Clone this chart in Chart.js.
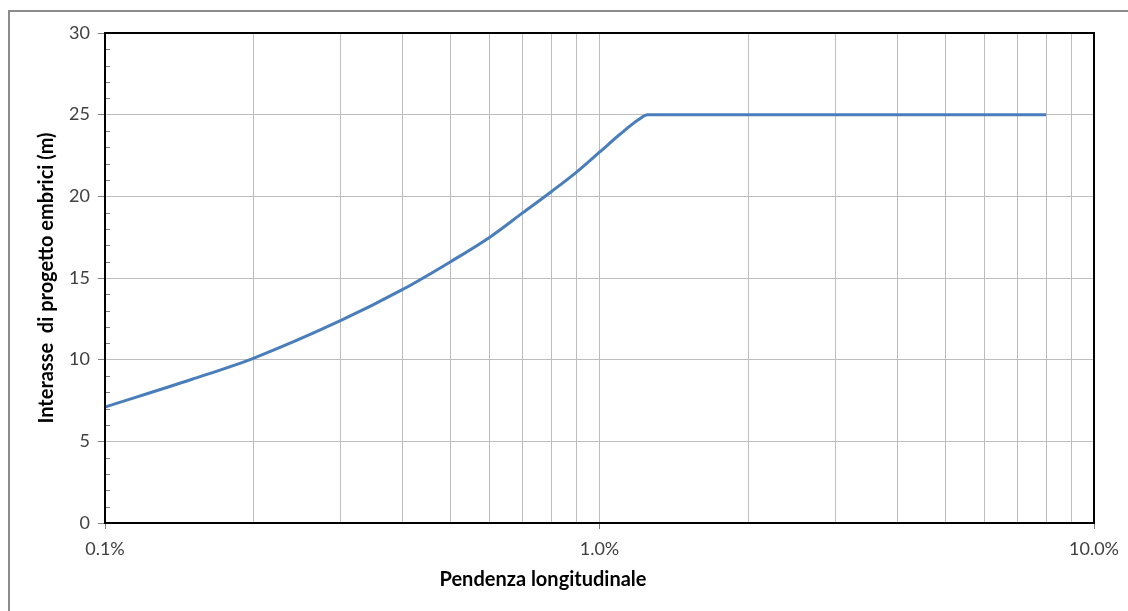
<!DOCTYPE html>
<html>
<head>
<meta charset="utf-8">
<script src="https://cdn.jsdelivr.net/npm/chart.js@4.4.1/dist/chart.umd.min.js"></script>
<style>
  html, body { margin: 0; padding: 0; background: #fff; }
  #wrap { position: absolute; left: 0; top: 0; width: 1128px; height: 611px; }
</style>
</head>
<body>
<div id="wrap"><canvas id="grafico" width="1128" height="611"></canvas></div>
<script>
// pendenza longitudinale (%) e interasse embrici (m)
var pendenza  = [0.1, 0.15, 0.2, 0.3, 0.4, 0.5, 0.6, 0.7, 0.8, 0.9, 1.0, 1.1, 1.2, 1.25, 8.0];
var interasse = [7.1, 8.8, 10.1, 12.4, 14.3, 16.0, 17.5, 19.0, 20.3, 21.5, 22.7, 23.8, 24.7, 25.0, 25.0];

// tacche asse x (decadi con etichetta) e asse y
var xDecadi  = [0.1, 1, 10];
var yMin = 0, yMax = 30, yPasso = 5;

var titoloX = 'Pendenza longitudinale';
var titoloY = 'Interasse  di progetto embrici (m)';

var font = 'Lato, "Open Sans", sans-serif';

// tutte le tacche del log: 1..9 per ogni decade
function tackeLog(){
  var t = [];
  for (var d = 0; d < xDecadi.length - 1; d++){
    for (var k = 1; k < 10; k++){
      t.push(+(xDecadi[d] * k).toPrecision(3));
    }
  }
  t.push(xDecadi[xDecadi.length - 1]);
  return t;
}
function isDecade(v){
  return xDecadi.some(function(d){ return Math.abs(d - v) < 1e-9; });
}

var punti = pendenza.map(function(p, i){ return {x: p, y: interasse[i]}; });

// cornice esterna, bordo area grafico, tacche minori y, titoli
var decorazioni = {
  id: 'decorazioni',
  beforeDraw: function(chart){
    var ctx = chart.ctx;
    ctx.save();
    ctx.strokeStyle = '#8c8c8c';
    ctx.lineWidth = 2;
    ctx.beginPath();
    ctx.moveTo(9, 611);
    ctx.lineTo(9, 11);
    ctx.lineTo(1128, 11);
    ctx.stroke();
    ctx.restore();
  },
  afterDraw: function(chart){
    var ctx = chart.ctx, a = chart.chartArea, y = chart.scales.y;
    ctx.save();
    // tacche minori sull'asse y (verso l'interno)
    ctx.strokeStyle = '#7f7f7f';
    ctx.lineWidth = 1;
    for (var v = yMin; v <= yMax; v++){
      if (v % yPasso === 0) continue;
      var py = Math.round(y.getPixelForValue(v)) + 0.5;
      ctx.beginPath();
      ctx.moveTo(a.left, py);
      ctx.lineTo(a.left + 5, py);
      ctx.stroke();
    }
    // bordo
    ctx.strokeStyle = '#000';
    ctx.lineWidth = 2;
    ctx.strokeRect(a.left, a.top, a.right - a.left, a.bottom - a.top);
    // titoli
    ctx.fillStyle = '#000';
    ctx.font = 'bold 20px ' + font;
    ctx.textAlign = 'center';
    ctx.textBaseline = 'middle';
    ctx.fillText(titoloX, 543, 580);
    ctx.translate(47, (a.top + a.bottom) / 2);
    ctx.rotate(-Math.PI / 2);
    ctx.fillText(titoloY, 0, 0);
    ctx.restore();
  }
};

var grafico = new Chart(document.getElementById('grafico'), {
  type: 'line',
  data: {
    datasets: [{
      data: punti,
      borderColor: '#4a7ebb',
      borderWidth: 3,
      pointRadius: 0,
      fill: false,
      cubicInterpolationMode: 'monotone'
    }]
  },
  options: {
    responsive: false,
    animation: false,
    layout: { padding: { top: 33, right: 33, left: 0, bottom: 0 } },
    plugins: { legend: { display: false }, tooltip: { enabled: false } },
    scales: {
      x: {
        type: 'logarithmic',
        min: xDecadi[0],
        max: xDecadi[xDecadi.length - 1],
        afterBuildTicks: function(scale){
          scale.ticks = tackeLog().map(function(v){ return {value: v, major: isDecade(v)}; });
        },
        afterFit: function(scale){ scale.height = 88; },
        border: { display: false },
        grid: {
          color: '#bdbdbd',
          lineWidth: 1,
          drawTicks: true,
          tickLength: 6,
          tickColor: function(c){ return isDecade(c.tick.value) ? '#7f7f7f' : 'rgba(0,0,0,0)'; }
        },
        ticks: {
          autoSkip: false,
          maxRotation: 0,
          padding: 9,
          color: '#404040',
          font: { family: font, size: 18 },
          callback: function(v){ return isDecade(v) ? v.toFixed(1) + '%' : ''; }
        }
      },
      y: {
        min: yMin,
        max: yMax,
        afterFit: function(scale){ scale.width = 105; },
        border: { display: false },
        grid: {
          color: '#bdbdbd',
          lineWidth: 1,
          tickLength: 7,
          tickColor: '#7f7f7f'
        },
        ticks: {
          stepSize: yPasso,
          padding: 8,
          color: '#404040',
          font: { family: font, size: 18 }
        }
      }
    }
  },
  plugins: [decorazioni]
});
</script>
</body>
</html>
